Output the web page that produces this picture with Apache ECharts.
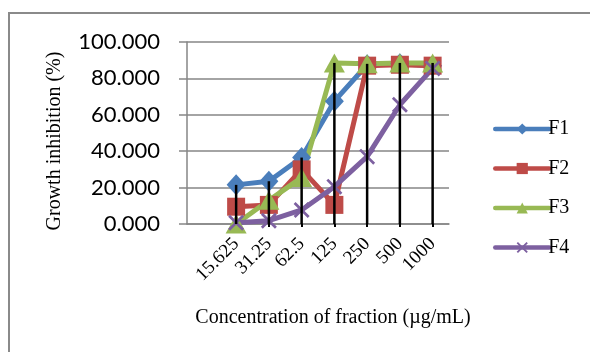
<!DOCTYPE html>
<html><head><meta charset="utf-8">
<script src="https://cdn.jsdelivr.net/npm/echarts@6/dist/echarts.min.js"></script>
<style>html,body{margin:0;padding:0;background:#fff;}#c{width:590px;height:352px;}</style>
</head><body><div id="c"></div>
<script>
// Data (first category is an empty slot, as in the original chart)
var categories = ['', '15.625', '31.25', '62.5', '125', '250', '500', '1000'];
var F1 = [null, 21.5, 23.5, 36.5, 67.5, 87.5, 88, 87];
var F2 = [null, 9.5, 10.5, 30, 10.5, 87, 87.5, 87];
var F3 = [null, 0, 13, 25.5, 88.5, 88, 88.5, 88.5];
var F4 = [null, 0.7, 1.8, 7.7, 20.5, 37, 65.5, 85.5];
var yTicks = [0, 20, 40, 60, 80, 100];

var drop = categories.map(function (c, i) {
  var v = [F1[i], F2[i], F3[i], F4[i]].filter(function (x) { return x != null; });
  return v.length ? Math.max.apply(null, v) : null;
});

var xSym = 'path://M0,1.2L1.2,0L5,3.8L8.8,0L10,1.2L6.2,5L10,8.8L8.8,10L5,6.2L1.2,10L0,8.8L3.8,5Z';
function lineSeries(name, data, color, symbol, size) {
  return {
    name: name, type: 'line', data: data, z: 2,
    symbol: symbol, symbolSize: size, showSymbol: true,
    lineStyle: { color: color, width: 5 },
    itemStyle: { color: color },
    connectNulls: false
  };
}

var chart = echarts.init(document.getElementById('c'), null, { renderer: 'canvas' });
chart.setOption({
  animation: false,
  grid: { left: 187, right: 141, top: 42, bottom: 128 },
  xAxis: {
    type: 'category', data: categories, boundaryGap: true,
    axisLine: { lineStyle: { color: '#868686', width: 1.5 } },
    axisTick: { show: true, alignWithLabel: true, length: 3, lineStyle: { color: '#000', width: 2 },
      interval: function (i) { return i > 0; } },
    axisLabel: { rotate: 45, margin: 17, interval: 0, fontFamily: 'Liberation Serif', fontSize: 19, color: '#000' },
    splitLine: { show: false }
  },
  yAxis: {
    type: 'value', min: yTicks[0], max: yTicks[yTicks.length - 1], interval: 20,
    axisLine: { show: true, lineStyle: { color: '#868686', width: 1.5 } },
    axisTick: { show: true, length: 8, lineStyle: { color: '#868686', width: 1.5 } },
    axisLabel: { margin: 27, fontFamily: 'Lato', fontSize: 22, color: '#000',
      formatter: function (v) { return v.toFixed(3); } },
    splitLine: { lineStyle: { color: '#868686', width: 1.5 } }
  },
  legend: {
    data: ['F1', 'F2', 'F3', 'F4'], orient: 'vertical', left: 488, top: 114,
    itemWidth: 54, itemHeight: 14, itemGap: 19.5,
    lineStyle: { width: 4.5, cap: 'round' },
    textStyle: { fontFamily: 'Liberation Serif', fontSize: 20, color: '#000', padding: [0, 0, 0, -6] }
  },
  graphic: [
    { type: 'rect', shape: { x: 9, y: 13, width: 600, height: 360 }, style: { fill: 'none', stroke: '#8a8a8a', lineWidth: 2 }, silent: true },
    { type: 'text', x: 55, y: 141, rotation: Math.PI / 2, style: { text: 'Growth inhibition (%)', font: '20px "Liberation Serif"', fill: '#000', align: 'center', verticalAlign: 'middle' } },
    { type: 'text', x: 333, y: 318, style: { text: 'Concentration of fraction (\u00b5g/mL)', font: '20px "Liberation Serif"', fill: '#000', align: 'center', verticalAlign: 'middle' } }
  ],
  series: [
    lineSeries('F1', F1, '#4A7EBB', 'diamond', [19, 21]),
    lineSeries('F2', F2, '#BE4B48', 'rect', 18),
    lineSeries('F3', F3, '#98B954', 'triangle', [21, 19]),
    lineSeries('F4', F4, '#7D60A0', xSym, 16),
    { name: 'drop', type: 'bar', data: drop, barWidth: 2.5, z: 5, itemStyle: { color: '#000' }, silent: true }
  ]
});
</script></body></html>
